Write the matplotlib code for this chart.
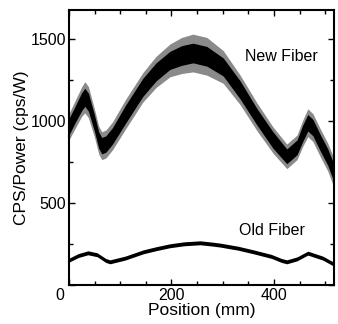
import numpy as np
import matplotlib
matplotlib.use("Agg")
import matplotlib.pyplot as plt
from matplotlib.ticker import MultipleLocator, FuncFormatter

# values (position in mm, counts per power in cps/W)
pos = [0, 12, 25, 31, 38, 50, 58, 64, 72, 85, 110, 144, 170, 197, 220, 242,
       269, 301, 334, 367, 398, 425, 445, 456, 466, 476, 490, 505, 520]
new_center = [965, 1040, 1120, 1145, 1115, 985, 885, 850, 860, 910, 1040, 1205,
              1300, 1370, 1400, 1415, 1395, 1330, 1190, 1025, 885, 785, 840,
              925, 990, 960, 870, 780, 660]
new_core = [50, 50, 55, 55, 55, 50, 50, 50, 50, 50, 55, 55, 55, 55, 60, 60,
            60, 55, 55, 50, 50, 45, 45, 50, 50, 50, 50, 50, 55]
new_outer = [80, 85, 90, 95, 95, 85, 85, 85, 85, 85, 90, 90, 95, 100, 110, 115,
             115, 100, 90, 85, 80, 75, 75, 80, 85, 85, 85, 85, 90]

old_pos = [0, 18, 37, 55, 72, 80, 110, 145, 170, 197, 225, 256, 280,
           295, 330, 360, 395, 415, 425, 445, 466, 495, 520]
old_center = [152, 180, 197, 185, 150, 142, 165, 203, 222, 240, 252, 258, 250,
              244, 225, 203, 175, 150, 142, 160, 195, 165, 122]
old_spread = [12] * len(old_pos)

plt.rcParams['font.family'] = ['Liberation Sans', 'DejaVu Sans']

fig = plt.figure(figsize=(3.38, 3.24), dpi=100)
ax = fig.add_axes([0.204, 0.120, 0.784, 0.849])

p = np.array(pos)
c = np.array(new_center)
ax.fill_between(p, c - np.array(new_outer), c + np.array(new_outer),
                color='#8a8a8a', lw=0)
ax.fill_between(p, c - np.array(new_core), c + np.array(new_core),
                color='black', lw=0)

op = np.array(old_pos)
oc = np.array(old_center)
ax.fill_between(op, oc - np.array(old_spread), oc + np.array(old_spread),
                color='black', lw=0)

ax.text(414, 1396, 'New Fiber', ha='center', va='center', fontsize=11.5)
ax.text(396, 335, 'Old Fiber', ha='center', va='center', fontsize=11.5)

ax.set_xlim(0, 517)
ax.set_ylim(0, 1677)
ax.xaxis.set_major_locator(MultipleLocator(200))
ax.xaxis.set_minor_locator(MultipleLocator(50))
ax.yaxis.set_major_locator(MultipleLocator(500))
ax.yaxis.set_minor_locator(MultipleLocator(250))
# one shared "0" in the corner
ax.xaxis.set_major_formatter(FuncFormatter(lambda v, i: '' if v == 0 else '%d' % v))
ax.yaxis.set_major_formatter(FuncFormatter(lambda v, i: '' if v == 0 else '%d' % v))
ax.text(-0.034, -0.009, '0', transform=ax.transAxes, ha='center', va='top',
        fontsize=11.5)

ax.tick_params(which='both', direction='in', top=True, right=True,
               labelsize=11.5, width=1.0, pad=2)
ax.tick_params(which='major', length=4)
ax.tick_params(which='minor', length=3)
for s in ax.spines.values():
    s.set_linewidth(1.5)

ax.set_xlabel('Position (mm)', fontsize=12.5, labelpad=0)
ax.set_ylabel('CPS/Power (cps/W)', fontsize=12.5, labelpad=1)

fig.savefig('out.png', dpi=100)
